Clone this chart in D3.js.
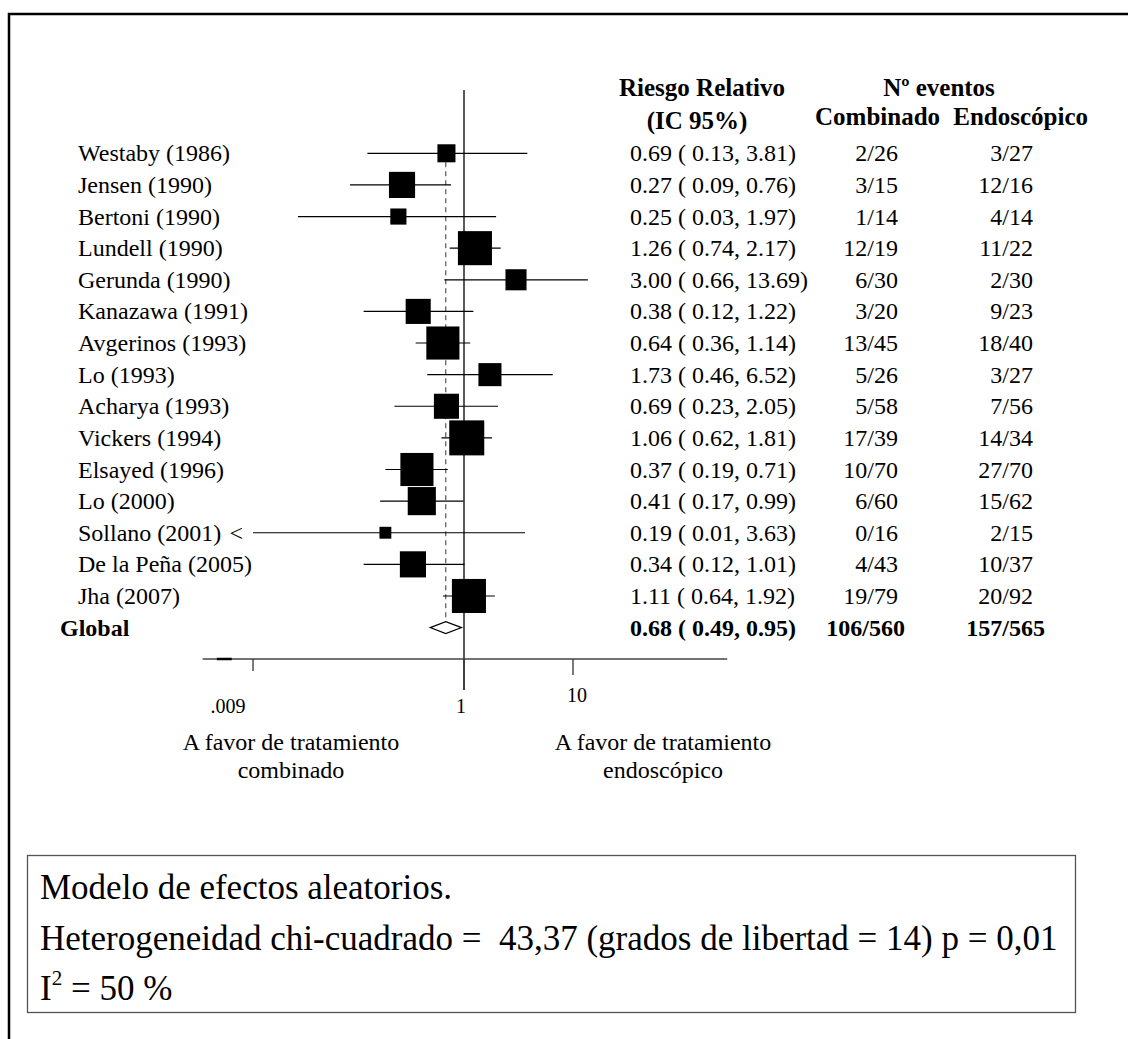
<!DOCTYPE html>
<html>
<head>
<meta charset="utf-8">
<script src="https://cdn.jsdelivr.net/npm/d3@7"></script>
<style>
  html, body { margin: 0; padding: 0; background: #fff; }
  svg { display: block; }
  text { font-family: "Liberation Serif", "Times New Roman", serif; fill: #000; white-space: pre; }
</style>
</head>
<body>
<svg id="chart" width="1128" height="1039"></svg>
<script>
// ---------------- DATA ----------------
const studies = ["Westaby (1986)", "Jensen (1990)", "Bertoni (1990)", "Lundell (1990)", "Gerunda (1990)",
  "Kanazawa (1991)", "Avgerinos (1993)", "Lo (1993)", "Acharya (1993)", "Vickers (1994)",
  "Elsayed (1996)", "Lo (2000)", "Sollano (2001)", "De la Peña (2005)", "Jha (2007)"];
const rr    = [0.69, 0.27, 0.25, 1.26, 3.00, 0.38, 0.64, 1.73, 0.69, 1.06, 0.37, 0.41, 0.19, 0.34, 1.11];
const ciLow = [0.13, 0.09, 0.03, 0.74, 0.66, 0.12, 0.36, 0.46, 0.23, 0.62, 0.19, 0.17, 0.01, 0.12, 0.64];
const ciHigh= [3.81, 0.76, 1.97, 2.17, 13.69, 1.22, 1.14, 6.52, 2.05, 1.81, 0.71, 0.99, 3.63, 1.01, 1.92];
const rrLabels = ["0.69 ( 0.13, 3.81)", "0.27 ( 0.09, 0.76)", "0.25 ( 0.03, 1.97)", "1.26 ( 0.74, 2.17)",
  "3.00 ( 0.66, 13.69)", "0.38 ( 0.12, 1.22)", "0.64 ( 0.36, 1.14)", "1.73 ( 0.46, 6.52)",
  "0.69 ( 0.23, 2.05)", "1.06 ( 0.62, 1.81)", "0.37 ( 0.19, 0.71)", "0.41 ( 0.17, 0.99)",
  "0.19 ( 0.01, 3.63)", "0.34 ( 0.12, 1.01)", "1.11 ( 0.64, 1.92)"];
const eventsCombined = ["2/26", "3/15", "1/14", "12/19", "6/30", "3/20", "13/45", "5/26", "5/58", "17/39",
  "10/70", "6/60", "0/16", "4/43", "19/79"];
const eventsEndo = ["3/27", "12/16", "4/14", "11/22", "2/30", "9/23", "18/40", "3/27", "7/56", "14/34",
  "27/70", "15/62", "2/15", "10/37", "20/92"];
// study weights (%)
const weights = [3.0, 6.3, 2.4, 10.7, 4.1, 5.8, 10.1, 4.9, 5.8, 11.3, 10.1, 7.3, 1.3, 6.3, 10.7];

const pooledLabel = "Global";
const pooledRR = 0.68, pooledLow = 0.49, pooledHigh = 0.95;
const pooledRRLabel = "0.68 ( 0.49, 0.95)";
const pooledCombined = "106/560", pooledEndo = "157/565";

// axis
const axisExtent = [0.0040, 260];        // drawn extent of the axis line
const clipLow = 0.0116;                  // lines below this are truncated with "<"
const tickValues = [0.0116, 1, 10];
const tickLabels = [".009", "1", "10"];

const header1 = "Riesgo Relativo", header2 = "(IC 95%)";
const header3 = "Nº eventos", header4 = "Combinado", header5 = "Endoscópico";
const favorLeft = ["A favor de tratamiento", "combinado"];
const favorRight = ["A favor de tratamiento", "endoscópico"];
const boxLines = ["Modelo de efectos aleatorios.",
  "Heterogeneidad chi-cuadrado =  43,37 (grados de libertad = 14) p = 0,01"];
const i2Text = ["I", "2", " = 50 %"];

// ---------------- DRAW ----------------
const svg = d3.select("#chart");

// outer frame (top + left)
svg.append("path").attr("d", "M9,1039 V14 H1128").attr("fill", "none")
  .attr("stroke", "#000").attr("stroke-width", 2.5);

const x = d3.scaleLog().domain([1, 10]).range([464, 573]);
const nRows = studies.length;
const y = d3.scaleLinear().domain([0, nRows]).range([153.3, 627.6]);
const size = d3.scaleSqrt().domain([0, d3.max(weights)]).range([0, 35]);

const g = svg.append("g");

// vertical line at 1
g.append("line").attr("x1", x(1)).attr("x2", x(1)).attr("y1", 90).attr("y2", 690)
  .attr("stroke", "#000").attr("stroke-width", 1.3);

// dashed pooled line
g.append("line").attr("x1", x(pooledRR)).attr("x2", x(pooledRR))
  .attr("y1", y(0)).attr("y2", y(nRows))
  .attr("stroke", "#555").attr("stroke-width", 1.2).attr("stroke-dasharray", "5,4");

// CI lines
const idx = d3.range(nRows);
g.selectAll("line.ci").data(idx).join("line").attr("class", "ci")
  .attr("x1", i => x(Math.max(ciLow[i], clipLow))).attr("x2", i => x(ciHigh[i]))
  .attr("y1", i => y(i)).attr("y2", i => y(i))
  .attr("stroke", "#000").attr("stroke-width", 1.2);

const fs = 24;
// truncation arrows
g.selectAll("text.arrow").data(idx.filter(i => ciLow[i] < clipLow)).join("text").attr("class", "arrow")
  .attr("x", i => x(clipLow) - 10).attr("y", i => y(i) + 8)
  .attr("text-anchor", "end").attr("font-size", fs).text("<");

// boxes
g.selectAll("rect.box").data(idx).join("rect").attr("class", "box")
  .attr("x", i => x(rr[i]) - size(weights[i]) / 2)
  .attr("y", i => y(i) - size(weights[i]) / 2)
  .attr("width", i => size(weights[i])).attr("height", i => size(weights[i]))
  .attr("fill", "#000");

// pooled diamond
const yp = y(nRows);
g.append("path")
  .attr("d", `M${x(pooledLow)},${yp} L${x(pooledRR)},${yp - 6} L${x(pooledHigh)},${yp} L${x(pooledRR)},${yp + 6} Z`)
  .attr("fill", "#fff").attr("stroke", "#000").attr("stroke-width", 1.2);

// axis
const axisY = 659;
g.append("line").attr("x1", x(axisExtent[0])).attr("x2", x(axisExtent[1]))
  .attr("y1", axisY).attr("y2", axisY).attr("stroke", "#444").attr("stroke-width", 1.3);
g.append("line").attr("x1", x(0.0054)).attr("x2", x(0.0074))
  .attr("y1", axisY).attr("y2", axisY).attr("stroke", "#000").attr("stroke-width", 2.5);
const tickLen = [12, 31, 16];
const labelBase = [713, 713, 702];
g.selectAll("line.tick").data(tickValues).join("line").attr("class", "tick")
  .attr("x1", d => x(d)).attr("x2", d => x(d))
  .attr("y1", axisY).attr("y2", (d, i) => axisY + tickLen[i])
  .attr("stroke", "#333").attr("stroke-width", 1.3);
const tickLabelX = [-25, -3, 4];
g.selectAll("text.tl").data(tickValues).join("text").attr("class", "tl")
  .attr("x", (d, i) => x(d) + tickLabelX[i]).attr("y", (d, i) => labelBase[i])
  .attr("text-anchor", "middle").attr("font-size", 20).text((d, i) => tickLabels[i]);

// favour labels
favorLeft.forEach((t, i) => svg.append("text").attr("x", 291).attr("y", 750 + i * 28)
  .attr("text-anchor", "middle").attr("font-size", fs).text(t));
favorRight.forEach((t, i) => svg.append("text").attr("x", 663).attr("y", 750 + i * 28)
  .attr("text-anchor", "middle").attr("font-size", fs).text(t));

// headers
const hfs = 25;
svg.append("text").attr("x", 702).attr("y", 96).attr("text-anchor", "middle")
  .attr("font-size", hfs).attr("font-weight", "bold").text(header1);
svg.append("text").attr("x", 697).attr("y", 129).attr("text-anchor", "middle")
  .attr("font-size", hfs).attr("font-weight", "bold").text(header2);
svg.append("text").attr("x", 939).attr("y", 96).attr("text-anchor", "middle")
  .attr("font-size", hfs).attr("font-weight", "bold").text(header3);
svg.append("text").attr("x", 815).attr("y", 125)
  .attr("font-size", hfs).attr("font-weight", "bold").text(header4);
svg.append("text").attr("x", 1088).attr("y", 125).attr("text-anchor", "end")
  .attr("font-size", hfs).attr("font-weight", "bold").text(header5);

// row texts
const rows = svg.append("g");
rows.selectAll("text.name").data(idx).join("text").attr("class", "name")
  .attr("x", 78).attr("y", i => y(i) + 8).attr("font-size", fs).text(i => studies[i]);
rows.selectAll("text.rr").data(idx).join("text").attr("class", "rr")
  .attr("x", 630).attr("y", i => y(i) + 8).attr("font-size", fs).text(i => rrLabels[i]);
rows.selectAll("text.ec").data(idx).join("text").attr("class", "ec")
  .attr("x", 898).attr("y", i => y(i) + 8).attr("text-anchor", "end").attr("font-size", fs)
  .text(i => eventsCombined[i]);
rows.selectAll("text.ee").data(idx).join("text").attr("class", "ee")
  .attr("x", 1033).attr("y", i => y(i) + 8).attr("text-anchor", "end").attr("font-size", fs)
  .text(i => eventsEndo[i]);

// pooled row texts
rows.append("text").attr("x", 60).attr("y", yp + 8).attr("font-size", fs).attr("font-weight", "bold").text(pooledLabel);
rows.append("text").attr("x", 630).attr("y", yp + 8).attr("font-size", fs).attr("font-weight", "bold").text(pooledRRLabel);
rows.append("text").attr("x", 905).attr("y", yp + 8).attr("text-anchor", "end").attr("font-size", fs).attr("font-weight", "bold").text(pooledCombined);
rows.append("text").attr("x", 1045).attr("y", yp + 8).attr("text-anchor", "end").attr("font-size", fs).attr("font-weight", "bold").text(pooledEndo);

// stats box
svg.append("rect").attr("x", 27.5).attr("y", 855.5).attr("width", 1048).attr("height", 157)
  .attr("fill", "#fff").attr("stroke", "#555").attr("stroke-width", 1.3);
const bfs = 35;
boxLines.forEach((t, i) => svg.append("text").attr("x", 40).attr("y", 899 + i * 51)
  .attr("font-size", bfs).text(t));
const i2 = svg.append("text").attr("x", 40).attr("y", 1000).attr("font-size", bfs);
i2.append("tspan").text(i2Text[0]);
i2.append("tspan").attr("font-size", 21).attr("dy", -15).text(i2Text[1]);
i2.append("tspan").attr("dy", 15).text(i2Text[2]);
</script>
</body>
</html>
